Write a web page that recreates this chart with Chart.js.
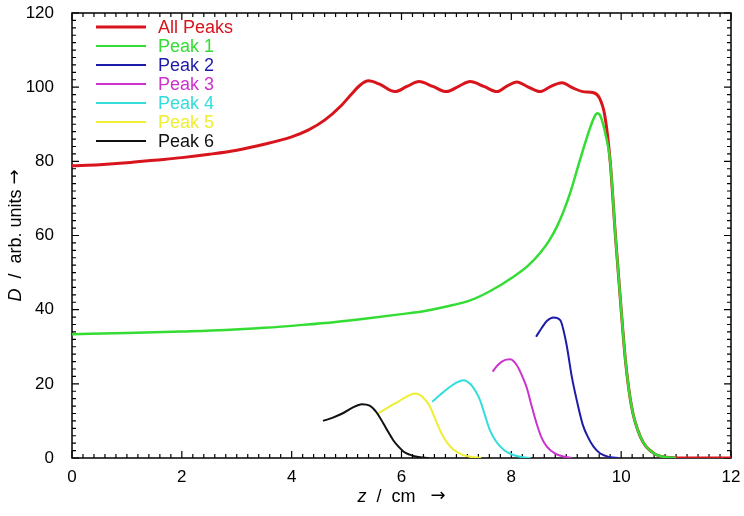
<!DOCTYPE html>
<html>
<head>
<meta charset="utf-8">
<script src="https://cdn.jsdelivr.net/npm/chart.js@4.4.1/dist/chart.umd.min.js"></script>
<style>
  html, body { margin: 0; padding: 0; background: #fff; }
</style>
</head>
<body>
<canvas id="peakChart" width="744" height="516"></canvas>
<script>
// z positions (cm) and D values (arb. units)
const allPeaksZ = [0, 0.5, 1, 1.5, 2, 2.5, 3, 3.5, 4, 4.3, 4.6, 4.9, 5.1, 5.25, 5.4, 5.6, 5.88, 6.1, 6.32, 6.57, 6.82, 7.05, 7.25, 7.5, 7.74, 7.92, 8.1, 8.3, 8.52, 8.72, 8.92, 9.12, 9.3, 9.5, 9.6, 9.7, 9.8, 9.9, 10.0, 10.08, 10.19, 10.35, 10.59, 10.83, 11.1, 12];
const allPeaksD = [78.8, 79.1, 79.6, 80.3, 81.0, 81.9, 83.0, 84.6, 86.6, 88.4, 91.1, 95.0, 98.3, 100.6, 101.7, 100.8, 98.8, 100.2, 101.5, 100.2, 98.8, 100.3, 101.5, 100.2, 98.8, 100.3, 101.4, 100.1, 98.8, 100.2, 101.2, 99.8, 98.8, 98.5, 97.2, 92.5, 80.0, 59.0, 40.0, 26.0, 13.8, 5.7, 1.3, 0.2, 0, 0];

const peak1Z = [0, 1, 2, 2.8, 3.5, 4.2, 4.8, 5.4, 6.0, 6.4, 6.8, 7.25, 7.6, 8.04, 8.3, 8.52, 8.7, 8.83, 8.95, 9.07, 9.25, 9.44, 9.52, 9.56, 9.62, 9.71, 9.8, 9.9, 10.0, 10.08, 10.19, 10.35, 10.59, 10.83, 11.0];
const peak1D = [33.4, 33.7, 34.1, 34.5, 35.1, 35.9, 36.7, 37.7, 38.8, 39.6, 40.8, 42.5, 44.9, 48.9, 51.8, 55.2, 58.9, 62.4, 66.5, 71.4, 80.4, 89.3, 92.2, 93.0, 92.3, 87.6, 80.0, 59.0, 40.0, 26.0, 13.8, 5.7, 1.3, 0.2, 0];

const peak2Z = [8.45, 8.55, 8.65, 8.77, 8.89, 9.0, 9.1, 9.2, 9.3, 9.4, 9.5, 9.62, 9.8, 9.95];
const peak2D = [32.7, 35.0, 37.0, 37.9, 37.2, 31.0, 22.0, 15.0, 9.0, 5.5, 3.0, 1.2, 0.2, 0];

const peak3Z = [7.66, 7.75, 7.85, 7.98, 8.1, 8.2, 8.28, 8.37, 8.46, 8.55, 8.65, 8.8, 8.95, 9.1];
const peak3D = [23.3, 25.0, 26.2, 26.6, 25.0, 22.0, 19.0, 14.0, 9.3, 5.5, 3.0, 1.2, 0.4, 0];

const peak4Z = [6.56, 6.7, 6.85, 7.0, 7.13, 7.25, 7.35, 7.43, 7.52, 7.61, 7.72, 7.86, 8.0, 8.16, 8.35];
const peak4D = [15.2, 17.0, 18.8, 20.3, 21.0, 20.0, 18.0, 15.6, 11.5, 7.5, 4.5, 2.2, 1.0, 0.35, 0];

const peak5Z = [5.57, 5.75, 5.95, 6.1, 6.25, 6.38, 6.52, 6.6, 6.7, 6.82, 6.95, 7.1, 7.25, 7.45];
const peak5D = [12.0, 13.6, 15.3, 16.6, 17.4, 16.5, 13.8, 11.0, 7.5, 4.3, 2.2, 0.9, 0.35, 0];

const peak6Z = [4.57, 4.75, 4.95, 5.1, 5.28, 5.42, 5.55, 5.67, 5.76, 5.85, 5.95, 6.04, 6.15, 6.28, 6.5];
const peak6D = [10.0, 10.9, 12.2, 13.5, 14.5, 14.1, 12.2, 9.3, 7.0, 4.8, 3.0, 1.7, 0.9, 0.35, 0];

const seriesNames = ["All Peaks", "Peak 1", "Peak 2", "Peak 3", "Peak 4", "Peak 5", "Peak 6"];
const seriesColors = ["#d8141c", "#33dd33", "#1c1ca8", "#cc33cc", "#33dddd", "#eeee33", "#111111"];
const seriesZ = [allPeaksZ, peak1Z, peak2Z, peak3Z, peak4Z, peak5Z, peak6Z];
const seriesD = [allPeaksD, peak1D, peak2D, peak3D, peak4D, peak5D, peak6D];

const fontName = "'Liberation Sans', Arial, sans-serif";

const datasets = seriesNames.map((naam, i) => ({
    label: naam,
    data: seriesZ[i].map((z, j) => ({ x: z, y: seriesD[i][j] })),
    borderColor: seriesColors[i],
    borderWidth: i === 0 ? 3 : (i === 1 ? 2.5 : 2),
    cubicInterpolationMode: "monotone",
    pointRadius: 0,
    fill: false,
    order: 10 - i,
}));

// box with inward ticks on all four sides
const kaderPlugin = {
    id: "kader",
    beforeDatasetsDraw(chart) {
        const { ctx, chartArea: a, scales } = chart;
        ctx.save();
        ctx.strokeStyle = "#000";
        ctx.lineWidth = 1.5;
        ctx.strokeRect(a.left, a.top, a.right - a.left, a.bottom - a.top);
        ctx.lineWidth = 1.2;
        ctx.beginPath();
        for (let i = 0; i <= 60; i++) {
            const px = scales.x.getPixelForValue(i * 0.2);
            const len = i % 10 === 0 ? 7 : 4;
            ctx.moveTo(px, a.bottom); ctx.lineTo(px, a.bottom - len);
            ctx.moveTo(px, a.top); ctx.lineTo(px, a.top + len);
        }
        for (let v = 0; v <= 120; v += 2) {
            const py = scales.y.getPixelForValue(v);
            const len = v % 20 === 0 ? 7 : 4;
            ctx.moveTo(a.left, py); ctx.lineTo(a.left + len, py);
            ctx.moveTo(a.right, py); ctx.lineTo(a.right - len, py);
        }
        ctx.stroke();
        ctx.restore();
    },
    afterDraw(chart) {
        const { ctx, chartArea: a } = chart;
        ctx.save();
        // legend inside the plot
        ctx.font = "18px " + fontName;
        ctx.textBaseline = "middle";
        chart.data.datasets.forEach((ds, i) => {
            const y = 27 + i * 19;
            ctx.strokeStyle = ds.borderColor;
            ctx.lineWidth = i === 0 ? 3 : 2;
            ctx.beginPath();
            ctx.moveTo(96, y); ctx.lineTo(146, y);
            ctx.stroke();
            ctx.fillStyle = ds.borderColor;
            ctx.fillText(ds.label, 158, y + 1);
        });

        // axis titles: italic symbol, plain unit, arrow
        ctx.fillStyle = "#000";
        ctx.textBaseline = "middle";
        const fonts = ["italic 18px " + fontName, "18px " + fontName, "18px 'DejaVu Sans'"];
        const tekenTitel = (delen) => {
            const breedtes = delen.map((t, k) => { ctx.font = fonts[k]; return ctx.measureText(t).width; });
            let x0 = -breedtes.reduce((s, w) => s + w, 0) / 2;
            delen.forEach((t, k) => {
                ctx.font = fonts[k];
                ctx.fillText(t, x0, k === 2 ? -1 : 0);
                x0 += breedtes[k];
            });
        };
        ctx.save();
        ctx.translate((a.left + a.right) / 2, 497);
        tekenTitel(["z", "  /  cm   ", "\u2192"]);
        ctx.restore();
        ctx.save();
        ctx.translate(16, (a.top + a.bottom) / 2);
        ctx.rotate(-Math.PI / 2);
        tekenTitel(["D", "  /  arb. units ", "\u2192"]);
        ctx.restore();
        ctx.restore();
    }
};

new Chart(document.getElementById("peakChart"), {
    type: "line",
    data: { datasets: datasets },
    options: {
        responsive: false,
        animation: false,
        layout: { padding: { top: 13, right: 13, left: 0, bottom: 0 } },
        plugins: {
            legend: { display: false },
            tooltip: { enabled: false },
        },
        scales: {
            x: {
                type: "linear",
                min: 0,
                max: 12,
                grid: { display: false },
                border: { display: false },
                ticks: {
                    stepSize: 2,
                    color: "#000",
                    padding: 1,
                    maxRotation: 0,
                    font: { family: fontName, size: 17 },
                },
                afterFit: s => { s.height = 58; s.paddingLeft = 0; s.paddingRight = 0; },
            },
            y: {
                min: 0,
                max: 120,
                grid: { display: false },
                border: { display: false },
                ticks: {
                    stepSize: 20,
                    color: "#000",
                    padding: 10,
                    font: { family: fontName, size: 17 },
                },
                afterFit: s => { s.width = 72; s.paddingTop = 0; s.paddingBottom = 0; },
            },
        },
    },
    plugins: [kaderPlugin],
});
</script>
</body>
</html>
